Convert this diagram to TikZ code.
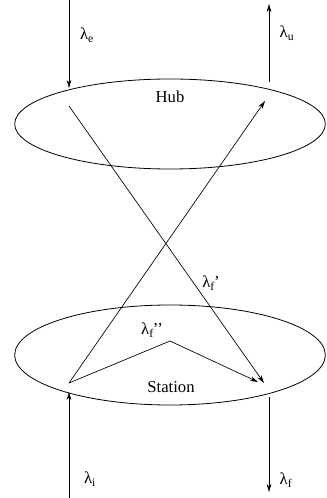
\documentclass[tikz,border=0pt]{standalone}
\usepackage{fontspec}
\setmainfont{Liberation Serif}
\usetikzlibrary{arrows.meta,shapes.geometric}
\tikzset{
  every picture/.style={line join=round, >={Stealth[length=6pt,width=3.5pt]}},
  region/.style={draw, ellipse, line width=0.6pt, minimum width=233pt, minimum height=67.5pt, inner sep=0pt},
  lbl/.style={font=\fontsize{12.5}{14}\selectfont, inner sep=0pt},
  flow/.style={->, line width=0.5pt},
}
\newcommand{\lam}[1]{λ\textsubscript{#1}}

\begin{document}
\begin{tikzpicture}[x=0.75pt,y=-0.75pt]
\useasboundingbox (0,0) rectangle (326,498);
\node[region] (hub) at (170,124) {};
\node[region, minimum height=75pt] (stn) at (170,355) {};
\coordinate (e0) at (69,0); \coordinate (e1) at (69,88);
\coordinate (u0) at (269,82); \coordinate (u1) at (269,4);
\coordinate (h1) at (69,106); \coordinate (h2) at (265,101);
\coordinate (s1) at (69,383); \coordinate (s2) at (264,383);
\coordinate (s3) at (170,341); \coordinate (s4) at (258,382);
\coordinate (i0) at (69,498); \coordinate (i1) at (69,392);
\coordinate (f0) at (269,397); \coordinate (f1) at (269,492);
\draw[flow](e0)--(e1);
\draw[flow](u0)--(u1);
\draw[flow](h1)--(s2);
\draw[flow](s1)--(h2);
\draw[flow](s1)--(s3)--(s4);
\draw[flow](i0)--(i1);
\draw[flow](f0)--(f1);
\node[lbl] (hubname) at (170,97) {Hub};
\node[lbl] (stnname) at (171,387) {Station};
\node[lbl] (le) at (87,35) {\lam{e}};
\node[lbl] (lu) at (287,33) {\lam{u}};
\node[lbl] (lf1) at (211,283) {\lam{f}\kern-0.05em’};
\node[lbl] (lf2) at (152,330) {\lam{f}\kern-0.05em’’};
\node[lbl] (li) at (90,479) {\lam{i}};
\node[lbl] (lf) at (286,480) {\lam{f}};
\end{tikzpicture}
\end{document}
